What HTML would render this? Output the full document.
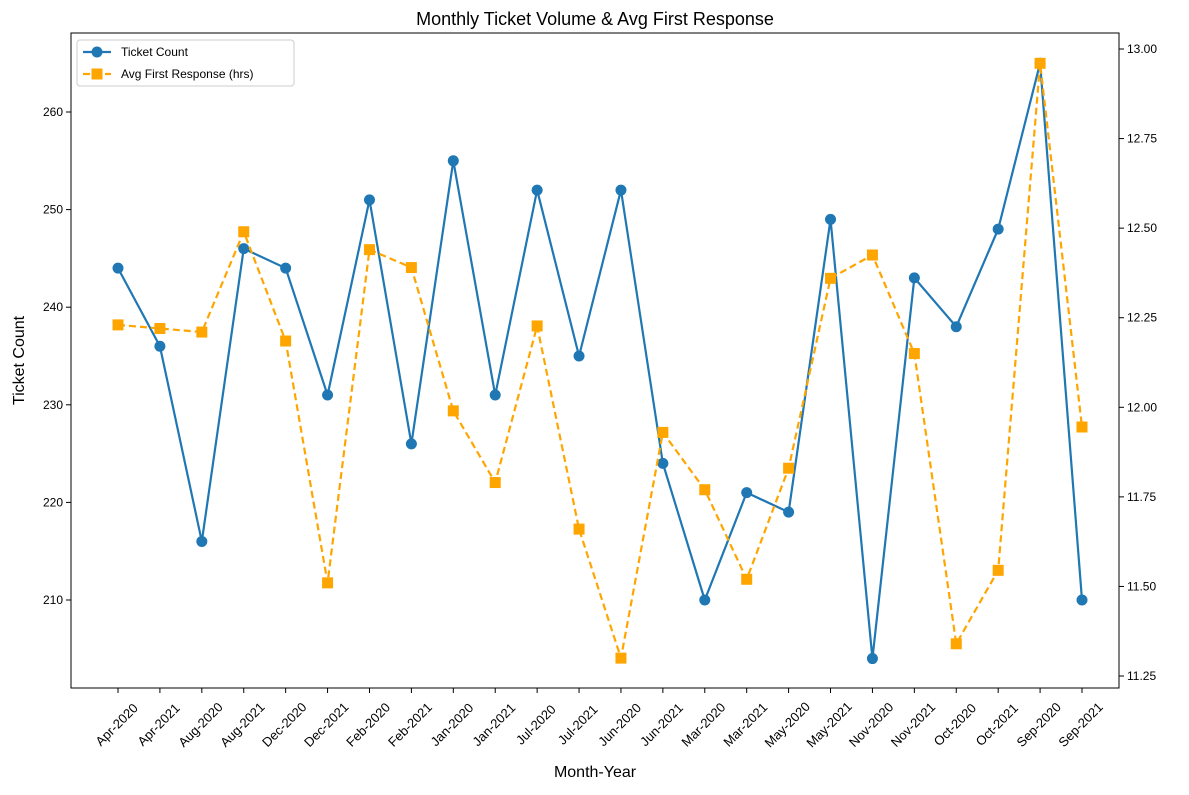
<!DOCTYPE html>
<html><head><meta charset="utf-8"><style>
body{margin:0;background:#fff;font-family:"Liberation Sans","DejaVu Sans",sans-serif}
</style></head><body>
<svg id="chart" width="1189" height="790" xmlns="http://www.w3.org/2000/svg"></svg>
<script>
const categories=["Apr-2020","Apr-2021","Aug-2020","Aug-2021","Dec-2020","Dec-2021","Feb-2020","Feb-2021","Jan-2020","Jan-2021","Jul-2020","Jul-2021","Jun-2020","Jun-2021","Mar-2020","Mar-2021","May-2020","May-2021","Nov-2020","Nov-2021","Oct-2020","Oct-2021","Sep-2020","Sep-2021"];
const ticketCounts=[244,236,216,246,244,231,251,226,255,231,252,235,252,224,210,221,219,249,204,243,238,248,265,210];
const avgResponse=[12.23,12.22,12.21,12.49,12.185,11.51,12.44,12.39,11.99,11.79,12.227,11.66,11.30,11.93,11.77,11.52,11.83,12.36,12.425,12.15,11.34,11.545,12.96,11.945];
const leftTicks=[210,220,230,240,250,260];
const rightTicks=[11.25,11.50,11.75,12.00,12.25,12.50,12.75,13.00];

const svg=document.getElementById('chart');
const NS="http://www.w3.org/2000/svg";
const L=71,R=1119,T=33,B=688;
const xS=i=>118+i*(964/(categories.length-1));
const yL=v=>112+(260-v)*9.76;
const yR=v=>49+(13-v)*358.3;
function mk(tag,attrs,parent){const e=document.createElementNS(NS,tag);for(const k in attrs)e.setAttribute(k,attrs[k]);(parent||svg).appendChild(e);return e;}
function txt(s,attrs,parent){const e=mk('text',attrs,parent);e.textContent=s;return e;}

const frame=mk('rect',{x:L,y:T,width:R-L,height:B-T,fill:'none',stroke:'#000','stroke-width':1});



const t=txt('Monthly Ticket Volume & Avg First Response',{x:(L+R)/2,y:25,'text-anchor':'middle','font-size':18});



categories.forEach((c,i)=>{
  const x=xS(i);
  mk('line',{x1:x,x2:x,y1:B,y2:B+5,stroke:'#000'});
  const lb=txt(c,{x:x-1,y:B+41,'text-anchor':'middle','font-size':13,transform:`rotate(-45 ${x-1} ${B+37})`});
  
  
});
leftTicks.forEach(v=>{
  const y=yL(v);
  mk('line',{x1:L-5,x2:L,y1:y,y2:y,stroke:'#000'});
  const lb=txt(v,{x:L-8,y:y+4,'text-anchor':'end','font-size':12});
  
  
});
rightTicks.forEach(v=>{
  const y=yR(v);
  mk('line',{x1:R,x2:R+5,y1:y,y2:y,stroke:'#000'});
  const lb=txt(v.toFixed(2),{x:R+8,y:y+4,'text-anchor':'start','font-size':12});
  
  
});
const xt=txt('Month-Year',{x:(L+R)/2,y:777,'text-anchor':'middle','font-size':16});


const yt=txt('Ticket Count',{x:24,y:(T+B)/2,'text-anchor':'middle','font-size':16,transform:`rotate(-90 24 ${(T+B)/2})`});



const p1=mk('polyline',{points:ticketCounts.map((v,i)=>xS(i)+','+yL(v)).join(' '),fill:'none',stroke:'#1f77b4','stroke-width':2.2});


ticketCounts.forEach((v,i)=>{
  const c=mk('circle',{cx:xS(i),cy:yL(v),r:5.5,fill:'#1f77b4'});
  
  
});
const p2=mk('polyline',{points:avgResponse.map((v,i)=>xS(i)+','+yR(v)).join(' '),fill:'none',stroke:'#ffa500','stroke-width':2.2,'stroke-dasharray':'7,4'});


avgResponse.forEach((v,i)=>{
  const s=mk('rect',{x:xS(i)-5.5,y:yR(v)-5.5,width:11,height:11,fill:'#ffa500'});
  
  
});

const lg=mk('g',{});


mk('rect',{x:77,y:40,width:217,height:46,fill:'#fff',stroke:'#ccc',rx:3},lg);
mk('line',{x1:83,x2:111,y1:52,y2:52,stroke:'#1f77b4','stroke-width':2.2},lg);
mk('circle',{cx:97,cy:52,r:5.5,fill:'#1f77b4'},lg);
const l1=txt('Ticket Count',{x:121,y:56,'font-size':12},lg);


mk('line',{x1:83,x2:111,y1:74,y2:74,stroke:'#ffa500','stroke-width':2.2,'stroke-dasharray':'7,4'},lg);
mk('rect',{x:91.5,y:68.5,width:11,height:11,fill:'#ffa500'},lg);
const l2=txt('Avg First Response (hrs)',{x:121,y:78,'font-size':12},lg);


</script>
</body></html>
